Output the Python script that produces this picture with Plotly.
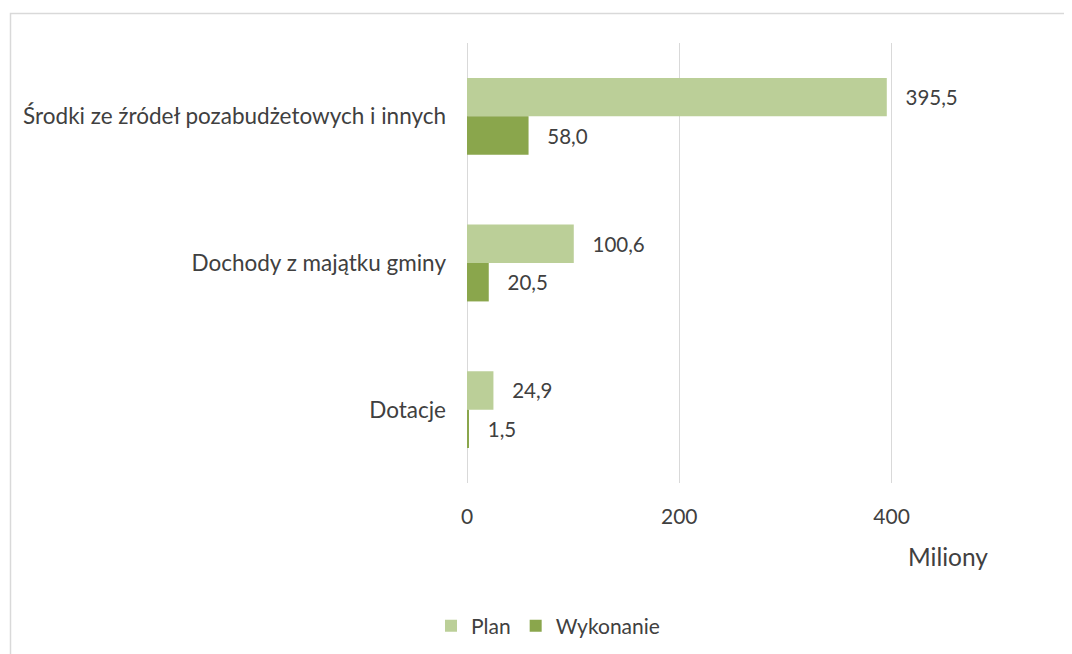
import plotly.graph_objects as go

categories = ["Środki ze źródeł pozabudżetowych i innych", "Dochody z majątku gminy", "Dotacje"]
plan = [395.5, 100.6, 24.9]
wykonanie = [58.0, 20.5, 1.5]
series_names = ["Plan", "Wykonanie"]
colors = ["#BBCF98", "#8AA64C"]
tick_vals = [0, 200, 400, 600]

OFF = 8  # page body margin
W, H = 1072 - OFF, 654 - OFF
L, R, T, B = 467 - OFF, 0, 43 - OFF, 654 - 483

FONT = "Lato"
TXT = "#404040"
FS = 21

fig = go.Figure()
for name, vals, col in zip(series_names, [plan, wykonanie], colors):
    fig.add_trace(go.Bar(
        y=categories, x=vals, name=name, orientation="h",
        marker=dict(color=col, line=dict(width=0)),
        text=[f"   {v:.1f}".replace(".", ",") for v in vals],
        textposition="outside", cliponaxis=False,
        textfont=dict(family=FONT, size=20.5, color=TXT),
    ))

pw = W - L - R
ph = H - T - B
def px2x(px):
    return (px - OFF - L) / pw
def py2y(py):
    return (H - B - (py - OFF)) / ph

fig.update_layout(
    width=W, height=H,
    margin=dict(l=L, r=R, t=T, b=B, autoexpand=False),
    paper_bgcolor="white", plot_bgcolor="white",
    barmode="group", bargap=0.476, bargroupgap=0,
    font=dict(family=FONT, size=FS, color=TXT),
    xaxis=dict(range=[0, 570], tickvals=tick_vals, showgrid=True, gridcolor="#D9D9D9",
               gridwidth=1.3, zeroline=True, zerolinecolor="#D9D9D9", zerolinewidth=1.3,
               showline=False,
               tickfont=dict(family=FONT, size=FS, color=TXT), ticklabelstandoff=19),
    yaxis=dict(autorange="reversed", showgrid=False, showline=False, zeroline=False,
               tickfont=dict(family=FONT, size=22.5, color=TXT), ticklabelstandoff=20),
    showlegend=True,
    legend=dict(orientation="h", xref="container", yref="container",
                x=(548 - OFF) / W, y=1 - (626 - OFF) / H, xanchor="center", yanchor="middle",
                traceorder="normal", font=dict(family=FONT, size=FS, color=TXT),
                itemwidth=30),
    annotations=[dict(text="Miliony", xref="paper", yref="paper",
                      x=px2x(948), y=py2y(556), showarrow=False,
                      xanchor="center", yanchor="middle",
                      font=dict(family=FONT, size=24.5, color=TXT))],
    shapes=[dict(type="rect", xref="paper", yref="paper",
                 x0=px2x(10.5), x1=px2x(1100), y0=py2y(700), y1=py2y(13.5),
                 line=dict(color="#D9D9D9", width=1.5), layer="below")],
)

fig.write_html("out.html")
